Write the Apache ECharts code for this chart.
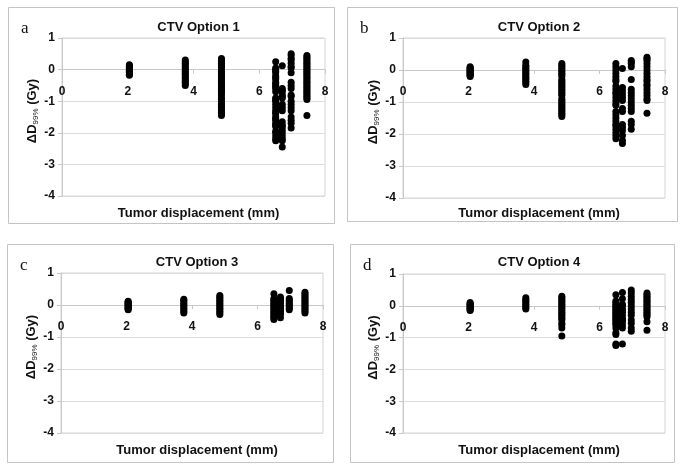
<!DOCTYPE html>
<html><head><meta charset="utf-8">
<script src="https://cdn.jsdelivr.net/npm/echarts@6/dist/echarts.min.js"></script>
<style>html,body{margin:0;padding:0;background:#fff}#c{width:685px;height:470px}</style>
</head><body><div id="c"></div>
<script>
// Tumor displacement positions (mm) of each column of points
var displacements = [2.05, 3.75, 4.85, 6.5, 6.7, 6.97, 7.45];
var xTicks = [0, 2, 4, 6, 8];
var yTicks = [-4, -3, -2, -1, 0, 1];
var panelTitles = ['CTV Option 1', 'CTV Option 2', 'CTV Option 3', 'CTV Option 4'];
var panelLetters = ['a', 'b', 'c', 'd'];
var xAxisTitle = 'Tumor displacement (mm)';

// ΔD99% (Gy) values, one sub-array per displacement column
var option1 = [
  [0.15,0.12,0.1,0.07,0.05,0.02,0,-0.03,-0.05,-0.08,-0.1,-0.13,-0.15,-0.18],
  [0.3,0.25,0.2,0.15,0.1,0.05,0,-0.05,-0.1,-0.15,-0.2,-0.25,-0.3,-0.35,-0.4,-0.45,-0.5],
  [0.35,0.3,0.25,0.2,0.15,0.1,0.05,0,-0.05,-0.1,-0.15,-0.2,-0.25,-0.3,-0.35,-0.4,-0.45,-0.5,-0.55,-0.6,-0.65,-0.7,-0.75,-0.8,-0.9,-0.95,-1.0,-1.05,-1.1,-1.15,-1.2,-1.25,-1.3,-1.35,-1.4,-1.45],
  [0.25,0.05,0,-0.05,-0.1,-0.2,-0.25,-0.3,-0.4,-0.45,-0.5,-0.55,-0.6,-0.7,-0.9,-0.95,-1.0,-1.1,-1.2,-1.3,-1.35,-1.4,-1.5,-1.55,-1.6,-1.7,-1.75,-1.8,-1.95,-2.0,-2.1,-2.2,-2.25],
  [0.12,-0.6,-0.65,-0.7,-0.8,-0.85,-0.9,-1.1,-1.2,-1.3,-1.65,-1.75,-1.8,-1.9,-2.0,-2.1,-2.2,-2.25,-2.45],
  [0.5,0.45,0.35,0.3,0.2,0.1,0.05,-0.1,-0.4,-0.5,-0.6,-0.8,-0.85,-1.0,-1.1,-1.2,-1.3,-1.5,-1.6,-1.7,-1.85],
  [0.45,0.4,0.35,0.3,0.25,0.2,0.15,0.1,0.05,0,-0.05,-0.1,-0.15,-0.2,-0.25,-0.3,-0.35,-0.4,-0.45,-0.5,-0.55,-0.6,-0.65,-0.7,-0.75,-0.8,-0.85,-0.9,-0.95,-1.45]
];
var option2 = [
  [0.1,0.07,0.05,0.02,0,-0.03,-0.05,-0.08,-0.1,-0.13,-0.15,-0.18,-0.2],
  [0.25,0.15,0.1,0.05,0,-0.05,-0.1,-0.15,-0.2,-0.25,-0.3,-0.35,-0.4,-0.45],
  [0.2,0.15,0.1,0.05,0,-0.05,-0.1,-0.15,-0.2,-0.3,-0.35,-0.4,-0.45,-0.5,-0.55,-0.6,-0.65,-0.7,-0.75,-0.8,-0.9,-0.95,-1.0,-1.05,-1.1,-1.15,-1.2,-1.25,-1.3,-1.35,-1.4,-1.45],
  [0.2,0.1,0,-0.1,-0.2,-0.3,-0.35,-0.5,-0.6,-0.7,-0.75,-0.85,-0.95,-1.05,-1.1,-1.3,-1.4,-1.5,-1.6,-1.7,-1.75,-1.85,-1.95,-2.05,-2.15],
  [0.05,-0.55,-0.65,-0.75,-0.85,-0.95,-1.2,-1.3,-1.7,-1.8,-1.9,-2.05,-2.2,-2.3],
  [0.3,0.25,0.2,0.1,-0.3,-0.6,-0.7,-0.8,-0.9,-1.0,-1.1,-1.2,-1.3,-1.6,-1.7,-1.85],
  [0.4,0.35,0.3,0.2,0.1,0,-0.1,-0.2,-0.3,-0.35,-0.45,-0.5,-0.6,-0.7,-0.8,-0.9,-0.95,-1.35]
];
var option3 = [
  [0.12,0.1,0.07,0.05,0.02,0,-0.03,-0.05,-0.08,-0.1,-0.13,-0.15],
  [0.18,0.15,0.1,0.05,0,-0.05,-0.1,-0.15,-0.2,-0.25],
  [0.3,0.25,0.2,0.15,0.1,0.05,0,-0.05,-0.1,-0.15,-0.2,-0.25,-0.3],
  [0.35,0.2,0.15,0.1,0.05,0,-0.05,-0.1,-0.15,-0.2,-0.25,-0.3,-0.35,-0.4,-0.45],
  [0.25,0.2,0.15,0.1,0.05,0,-0.05,-0.1,-0.15,-0.2,-0.25,-0.3,-0.4],
  [0.45,0.2,0.15,0.1,0.05,0,-0.05,-0.1,-0.15],
  [0.4,0.35,0.3,0.25,0.2,0.15,0.1,0.05,0,-0.05,-0.1,-0.15,-0.2,-0.25]
];
var option4 = [
  [0.1,0.07,0.05,0.02,0,-0.03,-0.05,-0.08,-0.1,-0.13,-0.15],
  [0.25,0.2,0.15,0.1,0.05,0,-0.05,-0.1],
  [0.3,0.25,0.2,0.15,0.1,0.05,0,-0.05,-0.1,-0.15,-0.2,-0.25,-0.3,-0.35,-0.4,-0.45,-0.55,-0.6,-0.7,-0.95],
  [0.35,0.15,0.1,0.05,0,-0.05,-0.1,-0.15,-0.2,-0.25,-0.3,-0.35,-0.4,-0.45,-0.5,-0.55,-0.6,-0.7,-0.85,-0.9,-1.2,-1.25],
  [0.42,0.22,0.05,0,-0.1,-0.15,-0.2,-0.3,-0.4,-0.45,-0.5,-0.6,-0.7,-1.2],
  [0.5,0.4,0.3,0.2,0.1,0,-0.1,-0.2,-0.3,-0.45,-0.55,-0.7,-0.8],
  [0.4,0.35,0.3,0.25,0.2,0.15,0.1,0.05,0,-0.05,-0.1,-0.15,-0.2,-0.25,-0.3,-0.35,-0.5,-0.77]
];
var panelsData = [option1, option2, option3, option4];

// layout
var grids = [
  {left: 62, top: 38, width: 263, height: 158},
  {left: 403, top: 38, width: 262, height: 160},
  {left: 61, top: 273, width: 262, height: 160},
  {left: 403, top: 274, width: 262, height: 159}
];
var frames = [
  {x: 8, y: 7, w: 326, h: 216},
  {x: 347, y: 7, w: 330, h: 214},
  {x: 7, y: 244, w: 326, h: 218},
  {x: 350, y: 244, w: 324, h: 218}
];
var SANS = '"Liberation Sans", Arial, sans-serif';
var SERIF = '"Liberation Serif", "Times New Roman", serif';

var option = {
  animation: false,
  backgroundColor: '#fff',
  grid: [], xAxis: [], yAxis: [], series: [], title: [], graphic: []
};

var yMin = yTicks[0], yMax = yTicks[yTicks.length - 1];
for (var i = 0; i < 4; i++) {
  var g = grids[i];
  option.grid.push({left: g.left, top: g.top, width: g.width, height: g.height,
    show: true, borderColor: '#d4d4d4', borderWidth: 1});
  // horizontal axis crosses the vertical axis at 0 (Excel style)
  var crossOffset = -g.height * (0 - yMin) / (yMax - yMin);
  option.xAxis.push({
    gridIndex: i, type: 'value', min: xTicks[0], max: xTicks[xTicks.length-1], interval: 2,
    position: 'bottom', offset: crossOffset,
    axisLine: {show: true, onZero: false, lineStyle: {color: '#c8c8c8'}},
    axisTick: {show: true, length: 4, lineStyle: {color: '#c8c8c8'}},
    axisLabel: {margin: 16, fontFamily: SANS, fontWeight: 'bold', fontSize: 12, color: '#111'},
    splitLine: {show: false}
  });
  option.yAxis.push({
    gridIndex: i, type: 'value', min: yMin, max: yMax, interval: 1,
    axisLine: {show: true, onZero: false, lineStyle: {color: '#c8c8c8'}},
    axisTick: {show: true, length: 4, lineStyle: {color: '#c8c8c8'}},
    axisLabel: {margin: 7, fontFamily: SANS, fontWeight: 'bold', fontSize: 12, color: '#111'},
    splitLine: {show: true, lineStyle: {color: '#dcdcdc'}},
    name: '{m|ΔD}{s|99%}{m| (Gy)}',
    nameLocation: 'middle', nameGap: 22, nameRotate: 90,
    nameTextStyle: {padding: [0, 0, 0, 12], rich: {
      m: {fontFamily: SANS, fontWeight: 'bold', fontSize: 13, color: '#111', lineHeight: 16},
      s: {fontFamily: SANS, fontSize: 8, color: '#111', lineHeight: 16, verticalAlign: 'bottom', padding: [4, 0, 0, 0]}
    }}
  });
  var pts = [];
  var cols = panelsData[i];
  for (var j = 0; j < cols.length; j++) {
    for (var k = 0; k < cols[j].length; k++) pts.push([displacements[j], cols[j][k]]);
  }
  option.series.push({type: 'scatter', xAxisIndex: i, yAxisIndex: i, data: pts,
    symbol: 'circle', symbolSize: 7, itemStyle: {color: '#000', opacity: 1}});

  var cx = g.left + g.width / 2;
  option.title.push({text: panelTitles[i], left: cx, top: (i < 2 ? 16 : 251), textAlign: 'center',
    textStyle: {fontFamily: SANS, fontWeight: 'bold', fontSize: 13, color: '#111'}});
  option.title.push({text: xAxisTitle, left: cx, top: (i < 2 ? 202 : 439), textAlign: 'center',
    textStyle: {fontFamily: SANS, fontWeight: 'bold', fontSize: 13, color: '#111'}});

  var f = frames[i];
  option.graphic.push({type: 'rect', shape: {x: f.x + 0.5, y: f.y + 0.5, width: f.w, height: f.h},
    style: {fill: 'none', stroke: '#c4c4c4', lineWidth: 1}, silent: true, z: -1});
  option.graphic.push({type: 'text', left: f.x + 13, top: f.y + 13,
    style: {text: panelLetters[i], font: '17px ' + SERIF, fill: '#111'}});
}

var chart = echarts.init(document.getElementById('c'), null, {renderer: 'canvas'});
chart.setOption(option);
</script></body></html>
